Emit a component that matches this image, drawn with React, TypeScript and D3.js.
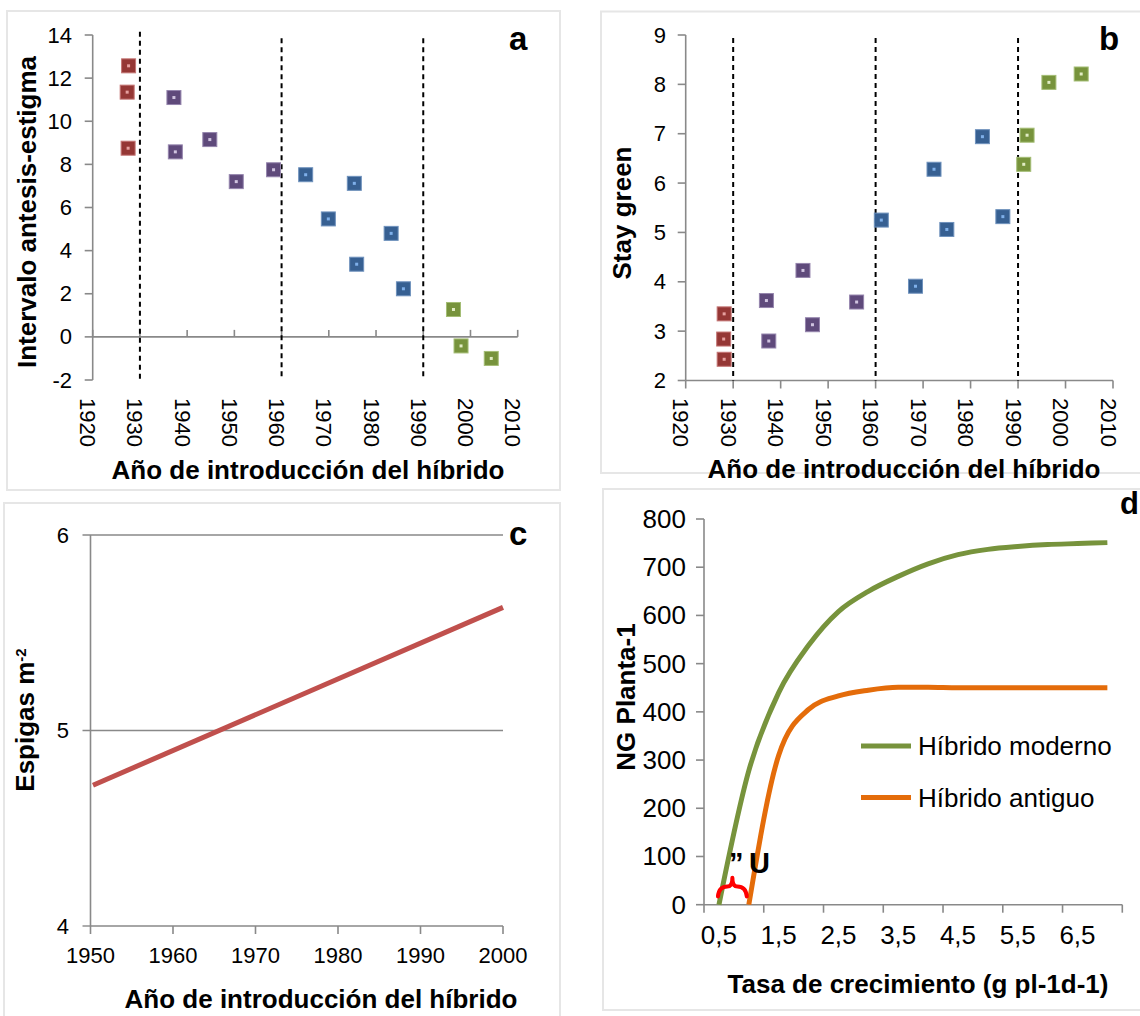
import * as d3 from 'd3'

// a: intervalo antesis-estigma vs año
const aYears = [1927.6, 1927.3, 1927.5, 1937.2, 1937.5, 1944.8, 1950.4, 1958.3, 1965.1, 1969.9, 1975.4, 1975.9, 1983.2, 1985.8, 1996.4, 1998.0, 2004.4]
const aValues = [12.57, 11.35, 8.75, 11.1, 8.58, 9.15, 7.2, 7.75, 7.52, 5.47, 7.12, 3.37, 4.8, 2.23, 1.27, -0.42, -1.0]
const aGroup = [0, 0, 0, 1, 1, 1, 1, 1, 2, 2, 2, 2, 2, 2, 3, 3, 3]

// b: stay green vs año
const bYears = [1928.1, 1928.0, 1928.1, 1937.0, 1937.5, 1944.7, 1946.7, 1956.0, 1961.2, 1968.4, 1972.3, 1975.0, 1982.5, 1986.8, 1991.2, 1991.9, 1996.5, 2003.3]
const bValues = [3.35, 2.84, 2.43, 3.62, 2.8, 4.23, 3.13, 3.59, 5.25, 3.91, 6.28, 5.06, 6.94, 5.32, 6.38, 6.97, 8.04, 8.21]
const bGroup = [0, 0, 0, 1, 1, 1, 1, 1, 2, 2, 2, 2, 2, 2, 3, 3, 3, 3]

const eraLines = [1930, 1960, 1990]
const yearTicks = [1920, 1930, 1940, 1950, 1960, 1970, 1980, 1990, 2000, 2010]
const aTicks = [-2, 0, 2, 4, 6, 8, 10, 12, 14]
const bTicks = [2, 3, 4, 5, 6, 7, 8, 9]

// c: espigas m-2 (recta de regresión)
const cYears = [1950.3, 2000]
const cValues = [4.72, 5.63]
const cXTicks = [1950, 1960, 1970, 1980, 1990, 2000]
const cYTicks = [4, 5, 6]

// d: NG planta-1 vs tasa de crecimiento
const dRates = [0.5, 1, 1.5, 2, 2.5, 3, 3.5, 4, 4.5, 5, 5.5, 6, 6.5, 7]
const dModerno = [0, 278, 440, 538, 608, 650, 681, 707, 726, 737, 743, 747, 749, 751]
const dAntiguo = [null, 0, 310, 405, 433, 445, 451, 451, 450, 450, 450, 450, 450, 450]
const dXLabels = [0.5, 1.5, 2.5, 3.5, 4.5, 5.5, 6.5]
const dYTicks = [0, 100, 200, 300, 400, 500, 600, 700, 800]

const markerFill = ['#953735', '#5f4a7b', '#376092', '#77933c']
const markerDot = ['#e6a09f', '#d0c4e0', '#7fb0ea', '#e1ecc4']
const markerEdge = ['#c47574', '#9585ad', '#6f92bd', '#a4bd75']

const font = '"Liberation Sans", Arial, sans-serif'
const axisColor = '#898989'
const title = { fontFamily: font, fontWeight: 'bold', fontSize: 26, fill: '#000' }
const tickText = { fontFamily: font, fontSize: 22, fill: '#000' }

const Marker = ({ x, y, g }) => (
  <g>
    <rect x={x - 7} y={y - 7} width={14} height={14} fill={markerFill[g]} stroke={markerEdge[g]} strokeWidth={1} />
    <rect x={x - 1.5} y={y - 1.5} width={3} height={3} fill={markerDot[g]} />
  </g>
)

const YearLabels = ({ x, top }) =>
  yearTicks.map(t => (
    <text
      key={t}
      transform={`translate(${x(t) - 5},${top}) rotate(90)`}
      dominantBaseline="central"
      style={tickText}
    >
      {t}
    </text>
  ))

const PanelA = () => {
  const x = d3.scaleLinear().domain([1920, 2010]).range([92.7, 517.7])
  const y = d3.scaleLinear().domain([-2, 14]).range([380, 35])
  const y0 = y(0)
  return (
    <g>
      <line x1={x(1920)} x2={x(1920)} y1={y(14)} y2={y(-2)} stroke={axisColor} strokeWidth={1.6} />
      {aTicks.map(t => (
        <g key={t}>
          <line x1={x(1920) - 8} x2={x(1920)} y1={y(t)} y2={y(t)} stroke={axisColor} strokeWidth={1.6} />
          <text x={72} y={y(t)} textAnchor="end" dominantBaseline="central" style={tickText}>{t}</text>
        </g>
      ))}
      <line x1={x(1920)} x2={x(2010)} y1={y0} y2={y0} stroke={axisColor} strokeWidth={1.6} />
      {yearTicks.map(t => (
        <line key={t} x1={x(t)} x2={x(t)} y1={y0 - 7} y2={y0} stroke={axisColor} strokeWidth={1.6} />
      ))}
      <YearLabels x={x} top={398} />
      {eraLines.map((e, i) => (
        <line key={e} x1={x(e)} x2={x(e)} y1={y(i === 0 ? 14.15 : 13.85)} y2={y(-2)} stroke="#000" strokeWidth={2} strokeDasharray="5,4" />
      ))}
      {aYears.map((yr, i) => (
        <Marker key={i} x={x(yr)} y={y(aValues[i])} g={aGroup[i]} />
      ))}
      <text transform="translate(36,212) rotate(-90)" textAnchor="middle" style={title}>Intervalo antesis-estigma</text>
      <text x={308} y={479} textAnchor="middle" style={title}>Año de introducción del híbrido</text>
      <text x={509} y={50} style={{ ...title, fontSize: 33 }}>a</text>
    </g>
  )
}

const PanelB = () => {
  const x = d3.scaleLinear().domain([1920, 2010]).range([685.7, 1113])
  const y = d3.scaleLinear().domain([2, 9]).range([380.5, 35])
  return (
    <g>
      <line x1={x(1920)} x2={x(1920)} y1={y(9)} y2={y(2)} stroke={axisColor} strokeWidth={1.6} />
      {bTicks.map(t => (
        <g key={t}>
          <line x1={x(1920) - 8} x2={x(1920)} y1={y(t)} y2={y(t)} stroke={axisColor} strokeWidth={1.6} />
          <text x={666} y={y(t)} textAnchor="end" dominantBaseline="central" style={tickText}>{t}</text>
        </g>
      ))}
      <line x1={x(1920)} x2={x(2010)} y1={y(2)} y2={y(2)} stroke={axisColor} strokeWidth={1.6} />
      {yearTicks.map(t => (
        <line key={t} x1={x(t)} x2={x(t)} y1={y(2)} y2={y(2) + 8} stroke={axisColor} strokeWidth={1.6} />
      ))}
      <YearLabels x={x} top={398} />
      {eraLines.map(e => (
        <line key={e} x1={x(e)} x2={x(e)} y1={y(8.94)} y2={y(2)} stroke="#000" strokeWidth={2} strokeDasharray="5,4" />
      ))}
      {bYears.map((yr, i) => (
        <Marker key={i} x={x(yr)} y={y(bValues[i])} g={bGroup[i]} />
      ))}
      <text transform="translate(631,213) rotate(-90)" textAnchor="middle" style={title}>Stay green</text>
      <text x={904} y={478} textAnchor="middle" style={title}>Año de introducción del híbrido</text>
      <text x={1099} y={50} style={{ ...title, fontSize: 33 }}>b</text>
    </g>
  )
}

const PanelC = () => {
  const x = d3.scaleLinear().domain([1950, 2000]).range([90.5, 503])
  const y = d3.scaleLinear().domain([4, 6]).range([926, 535])
  const line = d3.line().x(d => x(d[0])).y(d => y(d[1]))
  const pts = cYears.map((yr, i) => [yr, cValues[i]])
  return (
    <g>
      {cYTicks.map(t => (
        <g key={t}>
          <line x1={x(1950) - 8} x2={t === 4 ? x(1950) : x(2000)} y1={y(t)} y2={y(t)} stroke={axisColor} strokeWidth={1.4} />
          <text x={69} y={y(t)} textAnchor="end" dominantBaseline="central" style={tickText}>{t}</text>
        </g>
      ))}
      <line x1={x(1950)} x2={x(1950)} y1={y(6)} y2={y(4)} stroke={axisColor} strokeWidth={1.6} />
      <line x1={x(1950)} x2={x(2000)} y1={y(4)} y2={y(4)} stroke={axisColor} strokeWidth={1.6} />
      {cXTicks.map(t => (
        <g key={t}>
          <line x1={x(t)} x2={x(t)} y1={y(4)} y2={y(4) + 8} stroke={axisColor} strokeWidth={1.6} />
          <text x={x(t)} y={963} textAnchor="middle" style={tickText}>{t}</text>
        </g>
      ))}
      <path d={line(pts)} fill="none" stroke="#c0504d" strokeWidth={5} />
      <text transform="translate(34,720) rotate(-90)" textAnchor="middle" style={title}>
        Espigas m<tspan baselineShift="super" fontSize={15}>-2</tspan>
      </text>
      <text x={321} y={1008} textAnchor="middle" style={title}>Año de introducción del híbrido</text>
      <text x={509} y={545} style={{ ...title, fontSize: 33 }}>c</text>
    </g>
  )
}

const PanelD = () => {
  const x = d3.scaleBand().domain(dRates).range([704, 1122.3]).padding(0)
  const cx = v => x(v) + x.bandwidth() / 2
  const y = d3.scaleLinear().domain([0, 800]).range([904.7, 519])
  const line = d3
    .line()
    .defined(d => d[1] !== null)
    .x(d => cx(d[0]))
    .y(d => y(d[1]))
    .curve(d3.curveMonotoneX)
  const moderno = dRates.map((r, i) => [r, dModerno[i]])
  const antiguo = dRates.map((r, i) => [r, dAntiguo[i]])
  const boundaries = dRates.filter((_, i) => i % 2 === 0).map(r => x(r)).concat([x(7) + x.bandwidth()])

  // llave roja bajo la anotación
  const b0 = cx(0.5) - 1
  const b1 = cx(1) - 2
  const mid = (b0 + b1) / 2
  const yb = y(17)
  const yp = y(56)
  const brace = `M${b0},${yb} Q${b0 + 1},${yb - 10} ${mid - 5},${yb - 10} Q${mid},${yb - 10} ${mid},${yp} M${b1},${yb} Q${b1 - 1},${yb - 10} ${mid + 5},${yb - 10} Q${mid},${yb - 10} ${mid},${yp}`

  const dText = { fontFamily: font, fontSize: 26, fill: '#000' }
  return (
    <g>
      <line x1={704} x2={704} y1={y(800)} y2={y(0)} stroke={axisColor} strokeWidth={1.6} />
      {dYTicks.map(t => (
        <g key={t}>
          <line x1={696} x2={704} y1={y(t)} y2={y(t)} stroke={axisColor} strokeWidth={1.6} />
          <text x={686} y={y(t)} textAnchor="end" dominantBaseline="central" style={dText}>{t}</text>
        </g>
      ))}
      <line x1={704} x2={1122.3} y1={y(0)} y2={y(0)} stroke={axisColor} strokeWidth={1.6} />
      {boundaries.map(b => (
        <line key={b} x1={b} x2={b} y1={y(0)} y2={y(0) + 8} stroke={axisColor} strokeWidth={1.6} />
      ))}
      {dXLabels.map(l => (
        <text key={l} x={cx(l)} y={944} textAnchor="middle" style={dText}>{String(l).replace('.', ',')}</text>
      ))}
      <path d={line(moderno)} fill="none" stroke="#77933c" strokeWidth={5} />
      <path d={line(antiguo)} fill="none" stroke="#e46c0a" strokeWidth={5} />
      <path d={brace} fill="none" stroke="#ff0000" strokeWidth={4} strokeLinecap="round" />
      <text x={cx(0.5) + 10} y={y(66)} style={{ ...title, fontSize: 29 }}>”</text>
      <text x={cx(0.5) + 30} y={y(66)} style={{ ...title, fontSize: 29 }}>U</text>

      <line x1={861} x2={911} y1={746} y2={746} stroke="#77933c" strokeWidth={5} />
      <text x={918} y={746} dominantBaseline="central" style={dText}>Híbrido moderno</text>
      <line x1={861} x2={911} y1={797.5} y2={797.5} stroke="#e46c0a" strokeWidth={5} />
      <text x={918} y={797.5} dominantBaseline="central" style={dText}>Híbrido antiguo</text>

      <text transform="translate(635,697) rotate(-90)" textAnchor="middle" style={title}>NG Planta-1</text>
      <text x={918} y={993} textAnchor="middle" style={title}>Tasa de crecimiento (g pl-1d-1)</text>
      <text x={1120} y={514} style={{ ...title, fontSize: 31 }}>d</text>
    </g>
  )
}

export default function App() {
  const frame = { fill: 'none', stroke: '#e6e6e6', strokeWidth: 2 }
  return (
    <svg
      width={1140}
      height={1016}
      style={{ position: 'absolute', left: 0, top: 0, background: '#fff' }}
    >
      <rect x={7} y={11} width={553} height={479} style={frame} />
      <rect x={601} y={11.5} width={560} height={461.5} style={frame} />
      <rect x={4} y={503} width={556} height={530} style={frame} />
      <rect x={603} y={489} width={560} height={521} style={frame} />
      <PanelA />
      <PanelB />
      <PanelC />
      <PanelD />
    </svg>
  )
}
